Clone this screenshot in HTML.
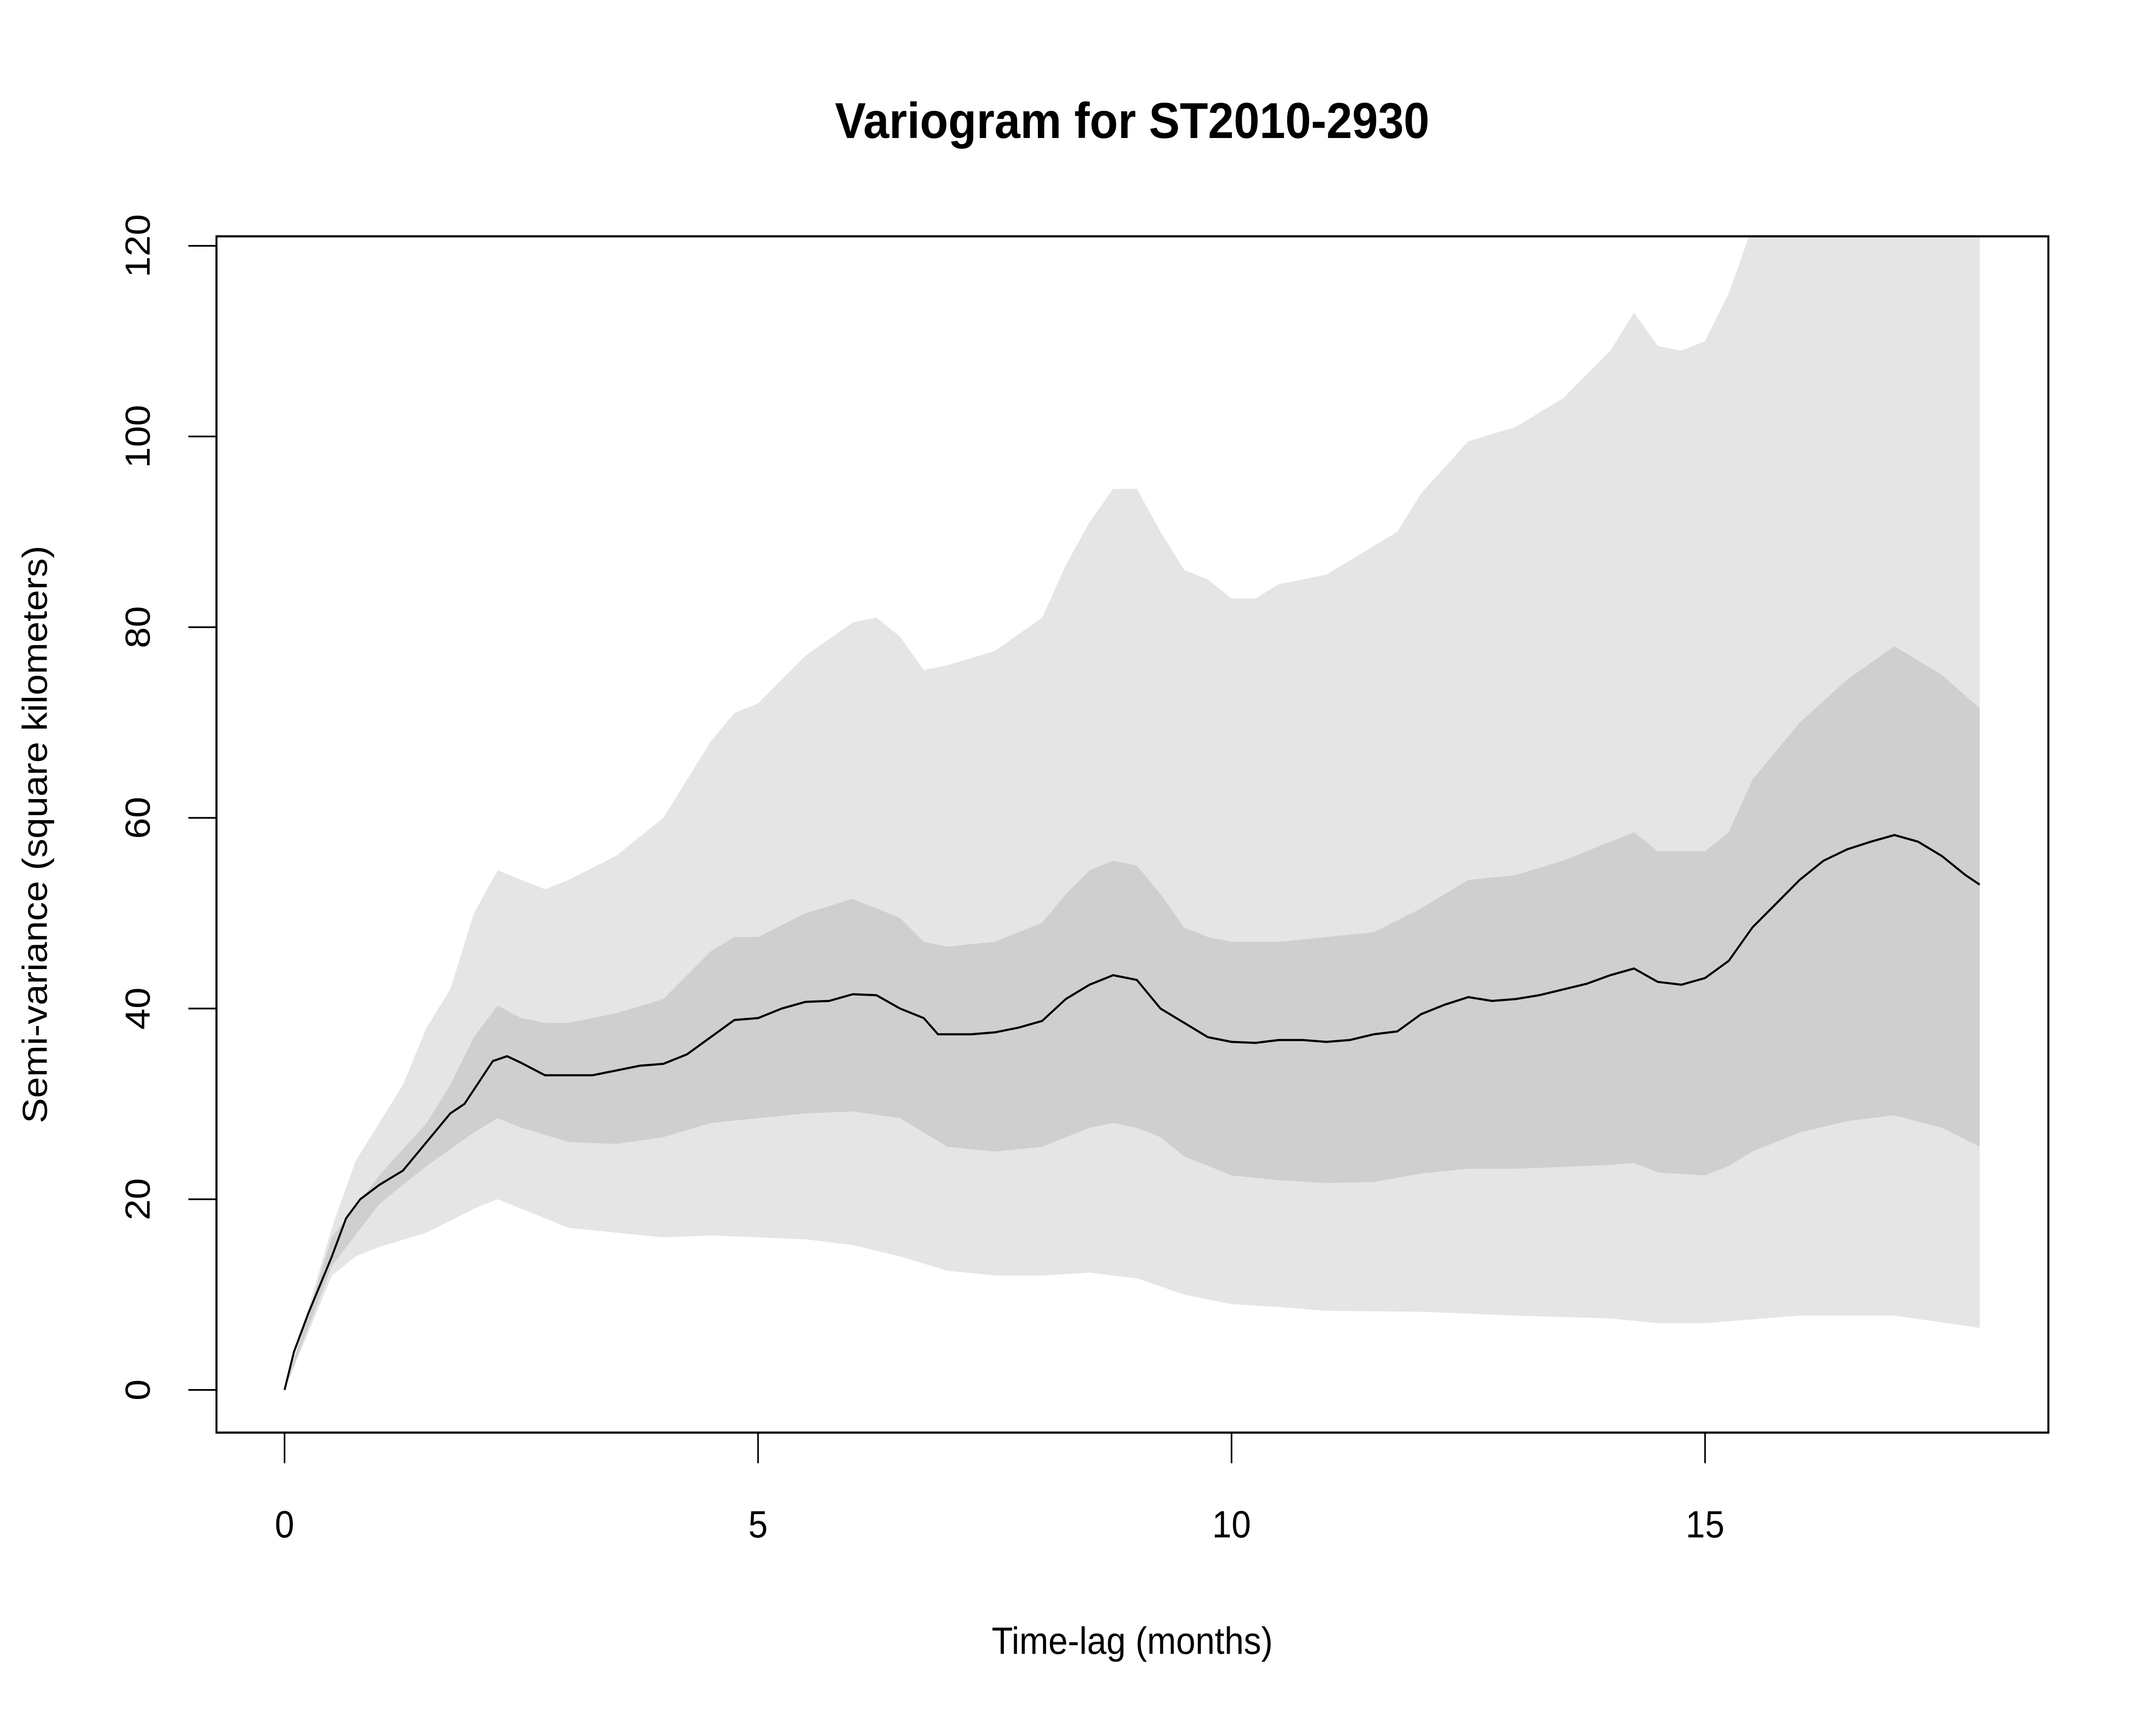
<!DOCTYPE html>
<html><head><meta charset="utf-8"><style>
html,body{margin:0;padding:0;background:#fff;width:100%;height:100%;overflow:hidden;}
svg{display:block;font-family:"Liberation Sans",Arial,sans-serif;width:100vw;height:100vh;}
</style></head><body>
<svg id="chart" viewBox="0 0 5448 4000" preserveAspectRatio="none" xmlns="http://www.w3.org/2000/svg">
<defs><clipPath id="plotclip"><rect x="547" y="548" width="4629" height="2774"/></clipPath></defs>
<rect width="5448" height="4000" fill="#fff"/>
<text x="2861" y="320" font-size="117" font-weight="bold" text-anchor="middle">Variogram for ST2010-2930</text>
<g id="bands" clip-path="url(#plotclip)"></g>
<rect x="547" y="548" width="4629" height="2774" fill="none" stroke="#000" stroke-width="5"/>
<g id="axes"></g>
<text x="2861" y="3835" font-size="88" text-anchor="middle">Time-lag (months)</text>
<text transform="translate(118,1935) rotate(-90)" font-size="88" text-anchor="middle">Semi-variance (square kilometers)</text>
</svg>
<script>
const meanX=[0,0.1,0.25,0.5,0.65,0.8,1.0,1.25,1.5,1.75,1.9,2.1,2.2,2.35,2.5,2.75,3.0,3.25,3.5,3.75,4.0,4.25,4.5,4.75,5.0,5.25,5.5,5.75,6.0,6.25,6.5,6.75,6.9,7.25,7.5,7.75,8.0,8.25,8.5,8.75,9.0,9.25,9.5,9.75,10.0,10.25,10.5,10.75,11.0,11.25,11.5,11.75,12.0,12.25,12.5,12.75,13.0,13.25,13.5,13.75,14.0,14.25,14.5,14.75,15.0,15.25,15.5,15.75,16.0,16.25,16.5,16.75,17.0,17.25,17.5,17.75,17.9];
const meanY=[0,4,8,14,18,20,21.5,23,26,29,30,33,34.5,35,34.3,33,33,33,33.5,34,34.2,35.2,37,38.8,39,40,40.7,40.8,41.5,41.4,40,39,37.3,37.3,37.5,38,38.7,41,42.5,43.5,43,40,38.5,37,36.5,36.4,36.7,36.7,36.5,36.7,37.3,37.6,39.4,40.4,41.2,40.8,41,41.4,42,42.6,43.5,44.2,42.8,42.5,43.2,45,48.5,51,53.5,55.5,56.7,57.5,58.2,57.5,56,54,53];
const innerUpX=[0,0.5,1.0,1.5,1.75,2.0,2.25,2.5,2.75,3.0,3.5,4.0,4.5,4.75,5.0,5.5,6.0,6.5,6.75,7.0,7.5,8.0,8.25,8.5,8.75,9.0,9.25,9.5,9.75,10.0,10.5,11.0,11.5,12.0,12.5,13.0,13.5,14.0,14.25,14.5,15.0,15.25,15.5,16.0,16.5,17.0,17.5,17.9];
const innerUpY=[0,16,22.5,28,32,37,40.3,39,38.5,38.5,39.5,41,46,47.5,47.5,50,51.5,49.5,47,46.5,47,49,52,54.5,55.5,55,52,48.5,47.5,47,47,47.5,48,50.5,53.5,54,55.5,57.5,58.5,56.5,56.5,58.5,64,70,74.5,78,75,71.5];
const innerLoX=[0,0.5,1.0,1.5,2.0,2.25,2.5,3.0,3.5,4.0,4.5,5.0,5.5,6.0,6.5,7.0,7.5,8.0,8.5,8.75,9.0,9.25,9.5,10.0,10.5,11.0,11.5,12.0,12.5,13.0,13.5,14.0,14.25,14.5,15.0,15.25,15.5,16.0,16.5,17.0,17.5,17.9];
const innerLoY=[0,13,19.5,23.5,27,28.5,27.5,26,25.8,26.5,28,28.5,29,29.2,28.5,25.5,25,25.5,27.5,28,27.5,26.5,24.5,22.5,22,21.7,21.8,22.7,23.2,23.2,23.4,23.6,23.8,22.8,22.5,23.5,25,27,28.2,28.8,27.5,25.5];
const outerUpX=[0,0.5,0.75,1.0,1.25,1.5,1.75,2.0,2.25,2.5,2.75,3.0,3.5,4.0,4.5,4.75,5.0,5.5,6.0,6.25,6.5,6.75,7.0,7.5,8.0,8.25,8.5,8.75,9.0,9.25,9.5,9.75,10.0,10.25,10.5,11.0,11.5,11.75,12.0,12.5,13.0,13.5,14.0,14.25,14.5,14.75,15.0,15.25,15.5,16.0,17.9];
const outerUpY=[0,17,24,28,32,38,42,50,54.5,53.5,52.5,53.5,56,60,68,71,72,77,80.5,81,79,75.5,76,77.5,81,86.5,91,94.5,94.5,90,86,85,83,83,84.5,85.5,88.5,90,94,99.5,101,104,109,113,109.5,109,110,115,122,130,130];
const outerLoX=[0,0.5,0.75,1.0,1.5,2.0,2.25,2.5,3.0,3.5,4.0,4.5,5.0,5.5,6.0,6.5,7.0,7.5,8.0,8.5,9.0,9.5,10.0,10.5,11.0,12.0,13.0,14.0,14.5,15.0,16.0,17.0,17.9];
const outerLoY=[0,12,14,15,16.5,19,20,19,17,16.5,16,16.2,16,15.8,15.2,14,12.5,12,12,12.3,11.7,10,9,8.7,8.3,8.2,7.8,7.5,7,7,7.8,7.8,6.5];
const xTicks=[0,5,10,15];
const yTicks=[0,20,40,60,80,100,120];

const NS='http://www.w3.org/2000/svg';
function sx(v){return 719+v*239.3;}
function sy(v){return 3223-v*(3223-570)/120;}
function mk(tag,attrs,parent){const e=document.createElementNS(NS,tag);for(const k in attrs)e.setAttribute(k,attrs[k]);parent.appendChild(e);return e;}
const bands=document.getElementById('bands');
const axes=document.getElementById('axes');
function bandPath(ux,uy,lx,ly){
  let d='';
  for(let i=0;i<ux.length;i++)d+=(i?'L':'M')+sx(ux[i]).toFixed(1)+','+sy(uy[i]).toFixed(1);
  for(let i=lx.length-1;i>=0;i--)d+='L'+sx(lx[i]).toFixed(1)+','+sy(ly[i]).toFixed(1);
  return d+'Z';
}
const outer=mk('path',{d:bandPath(outerUpX,outerUpY,outerLoX,outerLoY),fill:'#e5e5e5',stroke:'none'},bands);


const inner=mk('path',{d:bandPath(innerUpX,innerUpY,innerLoX,innerLoY),fill:'#cfcfcf',stroke:'none'},bands);


let md='';
for(let i=0;i<meanX.length;i++)md+=(i?'L':'M')+sx(meanX[i]).toFixed(1)+','+sy(meanY[i]).toFixed(1);
const ml=mk('path',{d:md,fill:'none',stroke:'#000','stroke-width':5,'stroke-linejoin':'round'},bands);



const xl=mk('line',{x1:sx(xTicks[0]),x2:sx(xTicks[xTicks.length-1]),y1:3322,y2:3322,stroke:'#000','stroke-width':5},axes);


xTicks.forEach(t=>{
  const tk=mk('line',{x1:sx(t),x2:sx(t),y1:3322,y2:3393,stroke:'#000','stroke-width':4},axes);
  
  
  const tx=mk('text',{x:sx(t),y:3565,'font-size':88,'text-anchor':'middle'},axes);
  tx.textContent=String(t);
  
  
});
const yl=mk('line',{x1:547,x2:547,y1:sy(yTicks[0]),y2:sy(yTicks[yTicks.length-1]),stroke:'#000','stroke-width':5},axes);


yTicks.forEach(t=>{
  const tk=mk('line',{x1:476,x2:547,y1:sy(t),y2:sy(t),stroke:'#000','stroke-width':4},axes);
  
  
  const tx=mk('text',{transform:'translate(378,'+sy(t)+') rotate(-90)','font-size':88,'text-anchor':'middle'},axes);
  tx.textContent=String(t);
  
  
});
</script>
</body></html>
